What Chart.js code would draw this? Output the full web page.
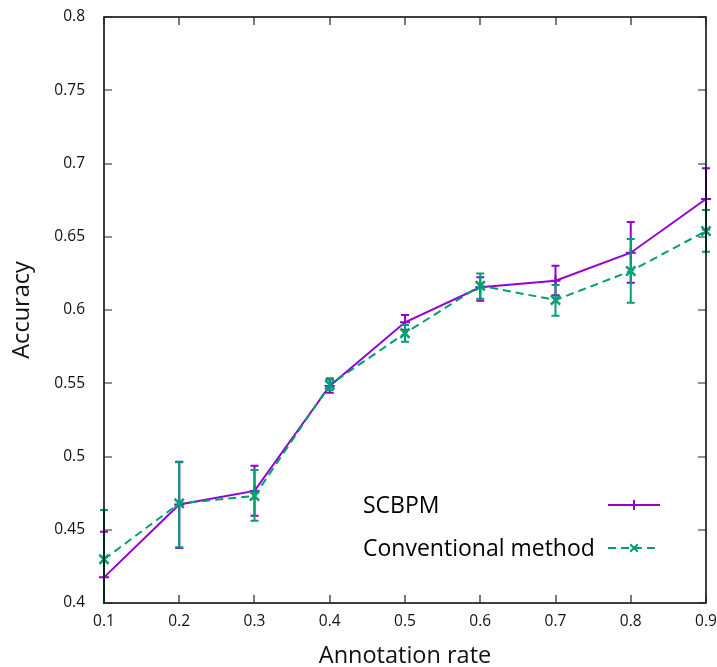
<!DOCTYPE html>
<html><head><meta charset="utf-8">
<script src="https://cdn.jsdelivr.net/npm/chart.js@4"></script>
<style>html,body{margin:0;padding:0;background:#fff}#wrap{width:717px;height:667px;position:relative}</style>
</head><body><div id="wrap"><canvas id="c" width="717" height="667"></canvas></div>
<script>
const annotationRates = [0.1, 0.2, 0.3, 0.4, 0.5, 0.6, 0.7, 0.8, 0.9];
const scbpmAccuracy = [0.4175, 0.4672, 0.4765, 0.5482, 0.5916, 0.6155, 0.6200, 0.6391, 0.6758];
const scbpmLow      = [0.3860, 0.4375, 0.4596, 0.5436, 0.5866, 0.6063, 0.6100, 0.6186, 0.6550];
const scbpmHigh     = [0.4487, 0.4965, 0.4937, 0.5528, 0.5966, 0.6223, 0.6302, 0.6600, 0.6967];
const conventionalAccuracy = [0.4298, 0.4680, 0.4730, 0.5490, 0.5841, 0.6166, 0.6068, 0.6266, 0.6539];
const conventionalLow      = [0.3960, 0.4380, 0.4562, 0.5454, 0.5784, 0.6077, 0.5960, 0.6050, 0.6398];
const conventionalHigh     = [0.4635, 0.4960, 0.4908, 0.5534, 0.5898, 0.6250, 0.6170, 0.6485, 0.6683];
const xTickValues = [0.1, 0.2, 0.3, 0.4, 0.5, 0.6, 0.7, 0.8, 0.9];
const yTickValues = [0.4, 0.45, 0.5, 0.55, 0.6, 0.65, 0.7, 0.75, 0.8];
const seriesLabels = ['SCBPM', 'Conventional method'];
const axisTitles = {x: 'Annotation rate', y: 'Accuracy'};

const PURPLE = '#9400D3', GREEN = '#009E73';
const FONT = '"Open Sans", "Noto Sans", sans-serif';

function pts(ys) { return annotationRates.map((x, i) => ({x: x, y: ys[i]})); }

const errorSets = [
  {low: scbpmLow, high: scbpmHigh},
  {low: conventionalLow, high: conventionalHigh}
];

const errorBarPlugin = {
  id: 'errorBars',
  afterDatasetDraw(chart, args) {
    const i = args.index;
    const ds = chart.data.datasets[i];
    const err = errorSets[i];
    const xs = chart.scales.x, ys = chart.scales.y, ca = chart.chartArea;
    const ctx = chart.ctx;
    ctx.save();
    ctx.beginPath();
    ctx.rect(ca.left - 10, ca.top - 1, ca.right - ca.left + 20, ca.bottom - ca.top + 2);
    ctx.clip();
    ctx.strokeStyle = ds.borderColor;
    ctx.lineWidth = 2;
    ctx.setLineDash([]);
    annotationRates.forEach((x, k) => {
      const px = xs.getPixelForValue(x);
      const y1 = ys.getPixelForValue(err.low[k]);
      const y2 = ys.getPixelForValue(err.high[k]);
      ctx.beginPath();
      ctx.moveTo(px, y1); ctx.lineTo(px, y2);
      ctx.moveTo(px - 4, y1); ctx.lineTo(px + 4, y1);
      ctx.moveTo(px - 4, y2); ctx.lineTo(px + 4, y2);
      ctx.stroke();
    });
    ctx.restore();
  }
};

const framePlugin = {
  id: 'frame',
  afterDraw(chart) {
    const ctx = chart.ctx, ca = chart.chartArea;
    const xs = chart.scales.x, ys = chart.scales.y;
    ctx.save();
    ctx.strokeStyle = '#000';
    ctx.lineWidth = 1.5;
    ctx.setLineDash([]);
    ctx.strokeRect(ca.left, ca.top, ca.right - ca.left, ca.bottom - ca.top);
    ctx.lineWidth = 1.2;
    ctx.strokeStyle = '#222';
    const L = 8;
    ctx.beginPath();
    xTickValues.forEach(v => {
      const px = Math.round(xs.getPixelForValue(v));
      ctx.moveTo(px, ca.bottom); ctx.lineTo(px, ca.bottom - L);
      ctx.moveTo(px, ca.top); ctx.lineTo(px, ca.top + L);
    });
    yTickValues.forEach(v => {
      const py = Math.round(ys.getPixelForValue(v));
      ctx.moveTo(ca.left, py); ctx.lineTo(ca.left + L, py);
      ctx.moveTo(ca.right, py); ctx.lineTo(ca.right - L, py);
    });
    ctx.stroke();
    ctx.restore();
  }
};

const legendPlugin = {
  id: 'customLegend',
  afterDraw(chart) {
    const ctx = chart.ctx;
    ctx.save();
    const textX = 363, lineX1 = 608, lineX2 = 660;
    const rows = [505, 548];
    chart.data.datasets.forEach((ds, i) => {
      const y = rows[i];
      ctx.fillStyle = '#000';
      ctx.font = '23px ' + FONT;
      ctx.textBaseline = 'middle';
      ctx.textAlign = 'left';
      ctx.fillText(ds.label, textX, y + 1);
      ctx.strokeStyle = ds.borderColor;
      ctx.lineWidth = 2;
      ctx.setLineDash(ds.borderDash || []);
      ctx.beginPath();
      ctx.moveTo(lineX1, y); ctx.lineTo(lineX2, y);
      ctx.stroke();
      ctx.setLineDash([]);
      const cx = (lineX1 + lineX2) / 2, r = 5;
      ctx.beginPath();
      if (ds.pointStyle === 'cross') {
        ctx.moveTo(cx, y - r); ctx.lineTo(cx, y + r);
        ctx.moveTo(cx - r, y); ctx.lineTo(cx + r, y);
      } else {
        const d = r * 0.75;
        ctx.moveTo(cx - d, y - d); ctx.lineTo(cx + d, y + d);
        ctx.moveTo(cx - d, y + d); ctx.lineTo(cx + d, y - d);
      }
      ctx.stroke();
    });
    ctx.restore();
  }
};

new Chart(document.getElementById('c'), {
  type: 'line',
  data: {
    datasets: [
      {
        label: seriesLabels[0], data: pts(scbpmAccuracy),
        borderColor: PURPLE, backgroundColor: PURPLE, borderWidth: 2,
        pointStyle: 'cross', pointRadius: 5, pointBorderWidth: 2,
        pointHoverRadius: 5, tension: 0, fill: false, clip: false, order: 1
      },
      {
        label: seriesLabels[1], data: pts(conventionalAccuracy),
        borderColor: GREEN, backgroundColor: GREEN, borderWidth: 2, borderDash: [8, 5],
        pointStyle: 'crossRot', pointRadius: 6.5, pointBorderWidth: 2.5,
        pointHoverRadius: 6.5, tension: 0, fill: false, clip: false, order: 0
      }
    ]
  },
  options: {
    responsive: false,
    animation: false,
    devicePixelRatio: 1,
    layout: {padding: {left: 0, top: 17, right: 11, bottom: 0}},
    plugins: {legend: {display: false}, tooltip: {enabled: false}},
    scales: {
      x: {
        type: 'linear', min: 0.1, max: 0.9,
        afterBuildTicks: s => { s.ticks = xTickValues.map(v => ({value: v})); },
        afterFit: s => { s.height = 64; s.paddingLeft = 0; s.paddingRight = 0; },
        grid: {display: false, drawTicks: false},
        border: {display: false},
        ticks: {padding: 9, color: '#111', font: {family: FONT, size: 15.5}, maxRotation: 0, autoSkip: false,
                callback: v => String(parseFloat(v.toFixed(2)))},
        title: {display: true, text: axisTitles.x, color: '#111', font: {family: FONT, size: 23.5}, padding: {top: 0, bottom: -3}}
      },
      y: {
        type: 'linear', min: 0.4, max: 0.8,
        afterBuildTicks: s => { s.ticks = yTickValues.map(v => ({value: v})); },
        afterFit: s => { s.width = 104; s.paddingTop = 0; s.paddingBottom = 0; },
        grid: {display: false, drawTicks: false},
        border: {display: false},
        ticks: {padding: 19, color: '#111', font: {family: FONT, size: 15.5}, autoSkip: false,
                callback: v => String(parseFloat(v.toFixed(2)))},
        title: {display: true, text: axisTitles.y, color: '#111', font: {family: FONT, size: 23.5}, padding: {top: 8, bottom: 0}}
      }
    }
  },
  plugins: [errorBarPlugin, framePlugin, legendPlugin]
});
</script></body></html>
